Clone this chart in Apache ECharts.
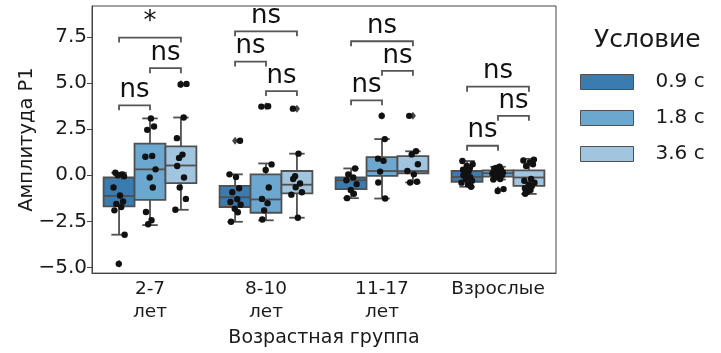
<!DOCTYPE html>
<html>
<head>
<meta charset="utf-8">
<script src="https://cdn.jsdelivr.net/npm/echarts@6/dist/echarts.min.js"></script>
<style>html,body{margin:0;padding:0;background:#fff;}#chart{width:721px;height:353px;}</style>
</head>
<body>
<div id="chart"></div>
<script>
// ---------------- data ----------------
const categories = ['2-7\nлет', '8-10\nлет', '11-17\nлет', 'Взрослые'];
const conditions = ['0.9 с', '1.8 с', '3.6 с'];
const yTicks = [-5, -2.5, 0, 2.5, 5, 7.5];

// box stats per category: [lower whisker, Q1, median, Q3, upper whisker]
const boxStats09 = [[-3.22, -1.69, -1.12, -0.12, 0.14], [-2.52, -1.72, -1.19, -0.57, 0.05], [-1.24, -0.75, -0.27, -0.12, 0.37], [-0.62, -0.35, -0.09, 0.23, 0.77]];
const boxStats18 = [[-2.70, -1.33, 0.32, 1.71, 3.08], [-2.44, -2.03, -1.31, 0.05, 0.64], [-1.26, -0.03, 0.23, 0.98, 1.96], [-0.23, -0.07, 0.11, 0.27, 0.46]];
const boxStats36 = [[-1.87, -0.43, 0.53, 1.57, 3.13], [-2.30, -0.98, -0.51, 0.23, 1.17], [-0.39, 0.11, 0.23, 1.04, 1.30], [-1.01, -0.57, -0.12, 0.27, 0.89]];

// outliers per category
const fliers09 = [[-4.8], [1.87], [], []];
const fliers18 = [[], [3.74], [3.22], [-0.8]];
const fliers36 = [[4.95], [3.61], [3.22], []];

// individual observations per category
const points09 = [
  [0.14, 0.05, 0.0, -0.05, -0.66, -1.1, -1.42, -1.55, -1.72, -1.9, -3.22, -4.8],
  [1.87, 0.05, -0.1, -0.7, -0.92, -1.3, -1.45, -1.6, -1.81, -2.0, -2.52],
  [0.37, 0.05, -0.12, -0.27, -0.48, -0.8, -1.0, -1.24],
  [0.77, 0.6, 0.5, 0.4, 0.3, 0.2, 0.1, 0.0, -0.1, -0.2, -0.3, -0.4, -0.5, -0.62]
];
const points18 = [
  [3.08, 2.64, 2.46, 1.05, 1.0, 0.32, -0.12, -0.66, -1.99, -2.44, -2.65],
  [3.74, 3.72, 0.59, 0.29, -0.66, -1.28, -1.51, -1.9, -2.4],
  [3.22, 1.96, 0.9, 0.78, 0.2, -0.39, -1.26],
  [0.46, 0.4, 0.35, 0.3, 0.2, 0.15, 0.1, 0.05, 0.0, -0.1, -0.2, -0.23, -0.75, -0.85]
];
const points36 = [
  [4.95, 4.92, 3.13, 2.01, 1.12, 0.94, 0.5, -0.12, -0.66, -1.28, -1.87],
  [3.61, 1.17, -0.05, -0.2, -0.45, -0.65, -0.92, -1.05, -2.3],
  [3.22, 1.3, 1.13, 0.6, 0.23, 0.05, -0.35, -0.39],
  [0.85, 0.8, 0.7, 0.6, 0.5, -0.2, -0.3, -0.4, -0.5, -0.6, -0.7, -0.8, -0.9, -1.0]
];

// significance brackets: [category, hue A, hue B, level]
const bracketPairs = [
  [0, 0, 1, 3.79], [0, 1, 2, 5.80], [0, 0, 2, 7.46],
  [1, 0, 1, 6.16], [1, 1, 2, 4.56], [1, 0, 2, 7.80],
  [2, 0, 1, 4.06], [2, 1, 2, 5.66], [2, 0, 2, 7.26],
  [3, 0, 1, 1.60], [3, 1, 2, 3.22], [3, 0, 2, 4.80]
];
const bracketLabels = ['ns', 'ns', '*', 'ns', 'ns', 'ns', 'ns', 'ns', 'ns', 'ns', 'ns', 'ns'];

// ---------------- style ----------------
const FONT = 'DejaVu Sans';
const colors = ['#3b7cb0', '#6ca7cf', '#a2c5df'];
const edge = '#505050';
const jitter = [-0.12, 0.10, -0.04, 0.16, -0.18, 0.03, 0.13, -0.09, 0.07, -0.15, 0.18, -0.01, 0.09, -0.13, 0.05, -0.06];

const allStats = [boxStats09, boxStats18, boxStats36];
const allFliers = [fliers09, fliers18, fliers36];
const allPoints = [points09, points18, points36];

function geom(api, cat) {
  const band = api.size([1, 0])[0];
  const w = band * 0.8 / 3;
  const base = api.coord([cat, 0])[0];
  return { w, base };
}

function boxRender(hue) {
  return function (params, api) {
    const cat = api.value(0);
    const g = geom(api, cat);
    const cx = g.base + (hue - 1) * g.w;
    const w = g.w;
    const Y = i => api.coord([cat, api.value(i)])[1];
    const low = Y(1), q1 = Y(2), med = Y(3), q3 = Y(4), high = Y(5);
    const st = { stroke: edge, lineWidth: 1.8 };
    return {
      type: 'group',
      children: [
        { type: 'line', shape: { x1: cx, y1: q3, x2: cx, y2: high }, style: st },
        { type: 'line', shape: { x1: cx, y1: q1, x2: cx, y2: low }, style: st },
        { type: 'line', shape: { x1: cx - w / 4, y1: high, x2: cx + w / 4, y2: high }, style: st },
        { type: 'line', shape: { x1: cx - w / 4, y1: low, x2: cx + w / 4, y2: low }, style: st },
        { type: 'rect', shape: { x: cx - w / 2, y: q3, width: w, height: q1 - q3 }, style: { fill: colors[hue], stroke: edge, lineWidth: 1.8 } },
        { type: 'line', shape: { x1: cx - w / 2, y1: med, x2: cx + w / 2, y2: med }, style: st }
      ]
    };
  };
}

const series = [];
for (let h = 0; h < 3; h++) {
  series.push({
    name: conditions[h],
    type: 'custom',
    z: 2,
    itemStyle: { color: colors[h], borderColor: edge, borderWidth: 1 },
    renderItem: boxRender(h),
    encode: { x: 0, y: [1, 2, 3, 4, 5] },
    data: allStats[h].map((s, c) => [c].concat(s))
  });
}

// fliers
const flierData = [];
for (let h = 0; h < 3; h++) allFliers[h].forEach((arr, c) => arr.forEach(v => flierData.push([c, v, h])));
series.push({
  name: 'fliers', type: 'custom', z: 3,
  encode: { x: 0, y: 1 },
  renderItem: function (params, api) {
    const cat = api.value(0), v = api.value(1), h = api.value(2);
    const g = geom(api, cat);
    const x = g.base + (h - 1) * g.w;
    const y = api.coord([cat, v])[1];
    return { type: 'polygon', shape: { points: [[x, y - 4], [x + 3, y], [x, y + 4], [x - 3, y]] }, style: { fill: '#444' } };
  },
  data: flierData
});

// strip points
const pointData = [];
for (let h = 0; h < 3; h++) allPoints[h].forEach((arr, c) => arr.forEach((v, i) => pointData.push([c, v, h, jitter[(i + c * 3 + h * 5) % jitter.length]])));
series.push({
  name: 'points', type: 'custom', z: 4,
  encode: { x: 0, y: 1 },
  renderItem: function (params, api) {
    const cat = api.value(0), v = api.value(1), h = api.value(2), j = api.value(3);
    const g = geom(api, cat);
    const x = g.base + (h - 1) * g.w + j * g.w;
    const y = api.coord([cat, v])[1];
    return { type: 'circle', shape: { cx: x, cy: y, r: 3.2 }, style: { fill: '#111' } };
  },
  data: pointData
});

// brackets
series.push({
  name: 'brackets', type: 'custom', z: 5,
  encode: { x: 0, y: 3 },
  renderItem: function (params, api) {
    const cat = api.value(0), a = api.value(1), b = api.value(2), lv = api.value(3);
    const g = geom(api, cat);
    const xa = g.base + (a - 1) * g.w, xb = g.base + (b - 1) * g.w;
    const y = api.coord([cat, lv])[1];
    const t = 5;
    return {
      type: 'group',
      children: [
        { type: 'polyline', shape: { points: [[xa, y + t], [xa, y], [xb, y], [xb, y + t]] }, style: { stroke: '#555', lineWidth: 1.8, fill: null } },
        { type: 'text', x: (xa + xb) / 2, y: y - 2, style: { text: bracketLabels[params.dataIndex], fontSize: 26, fontFamily: FONT, fill: '#111', align: 'center', verticalAlign: 'bottom' } }
      ]
    };
  },
  data: bracketPairs
});

const chart = echarts.init(document.getElementById('chart'));
chart.setOption({
  animation: false,
  backgroundColor: '#fff',
  title: { text: 'Условие', left: 589, top: 23, textStyle: { fontSize: 25, fontWeight: 'normal', color: '#1a1a1a', fontFamily: FONT } },
  legend: {
    data: conditions, orient: 'vertical', left: 575, top: 67,
    itemWidth: 53, itemHeight: 15, itemGap: 16, icon: 'rect',
    itemStyle: { borderColor: edge, borderWidth: 1 },
    textStyle: { fontSize: 20, fontFamily: FONT, color: '#1a1a1a', padding: [0, 0, 0, 17] }
  },
  grid: { left: 92, top: 6, width: 464, height: 271, show: true, borderColor: '#444', borderWidth: 1, backgroundColor: 'transparent' },
  xAxis: {
    type: 'category', data: categories, boundaryGap: true,
    name: 'Возрастная группа', nameLocation: 'middle', nameGap: 50,
    nameTextStyle: { fontSize: 19, fontFamily: FONT, color: '#1a1a1a' },
    axisLine: { onZero: false, lineStyle: { color: '#444' } },
    axisTick: { alignWithLabel: true, interval: 0, length: 5, lineStyle: { color: '#444' } },
    axisLabel: { interval: 0, hideOverlap: false, fontSize: 18.5, fontFamily: FONT, color: '#1a1a1a', lineHeight: 23, margin: 5 },
    splitLine: { show: false }
  },
  yAxis: {
    type: 'value', min: -5.3, max: 9.17,
    name: 'Амплитуда P1', nameLocation: 'middle', nameGap: 55, nameRotate: 90, nameMoveOverlap: false,
    nameTextStyle: { fontSize: 19.5, fontFamily: FONT, color: '#1a1a1a' },
    axisLine: { show: true, onZero: false, lineStyle: { color: '#444' } },
    axisTick: { show: true, length: 5, lineStyle: { color: '#444' }, customValues: yTicks },
    axisLabel: { fontSize: 20, fontFamily: FONT, color: '#1a1a1a', margin: 5, customValues: yTicks, formatter: v => v.toFixed(1).replace('-', '\u2212') },
    splitLine: { show: false }
  },
  series: series
});
</script>
</body>
</html>
